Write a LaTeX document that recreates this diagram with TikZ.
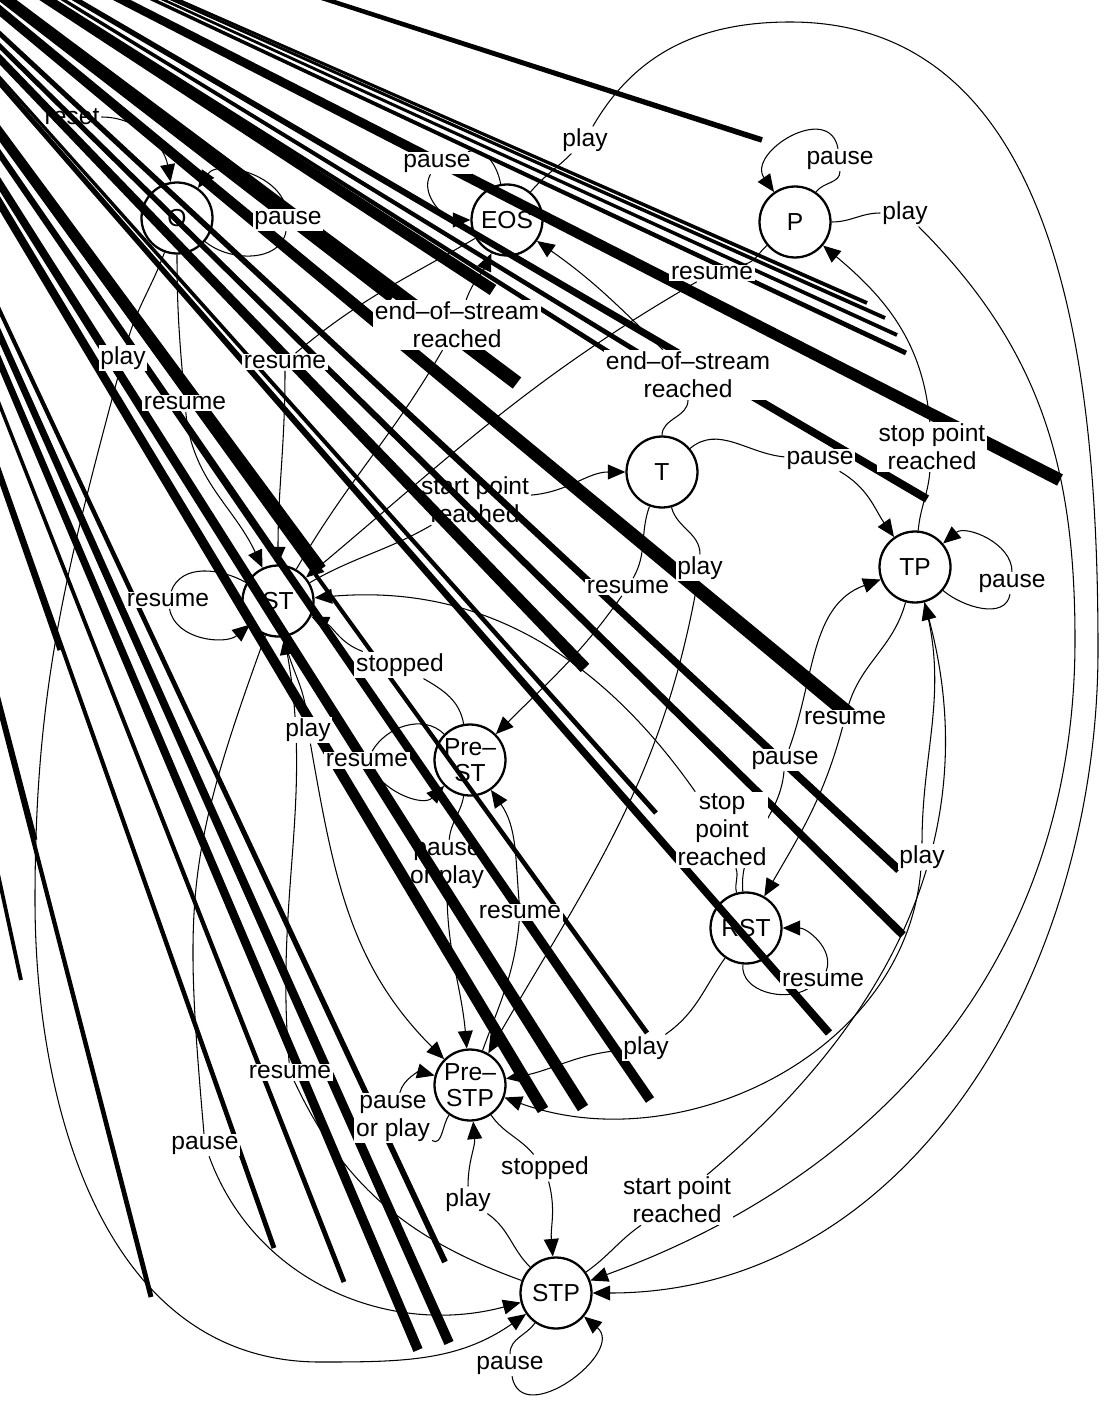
\documentclass[tikz,border=0pt]{standalone}
\usepackage{fontspec}
\setmainfont{Liberation Sans}
\usepackage{tikz}
\usetikzlibrary{arrows.meta, calc}
\pgfdeclarelayer{back}
\pgfdeclarelayer{bands}
\pgfsetlayers{back,bands,main}
\tikzset{
  state/.style={circle, draw, line width=1.3pt, fill=white, minimum size=1.42cm, inner sep=0pt, align=center, font=\fontsize{14}{15}\selectfont},
  prestate/.style={state, inner sep=-3pt},
  lbl/.style={fill=white, inner sep=1pt, align=center, font=\fontsize{14}{16}\selectfont},
  edge/.style={-{Triangle[length=10pt,width=8.5pt]}, line width=0.6pt},
}
% one smeared black wedge, pointing back to (V)
\newcommand{\wedgeband}[3]{\fill ($(V)!-1!(#1,#2)$) -- ($(#1,#2)!#3!90:(V)$) -- ($(#1,#2)!#3!-90:(V)$) -- cycle;}

\begin{document}
\begin{tikzpicture}[x=0.02cm, y=0.02cm]
\useasboundingbox (0,0) rectangle (1103,-1412);

% edge labels (on top)
\node[lbl] (lOo) at (288,-220) {pause};
\node[lbl] (lEOSe) at (437,-163) {pause};
\node[lbl] (lEOSstp) at (585,-140) {play};
\node[lbl] (lPp) at (840,-160) {pause};
\node[lbl] (lPstp) at (905,-213) {play};
\node[lbl] (lPst) at (712,-273) {resume};
\node[lbl] (lSTeos) at (457,-325) {end--of--stream\\reached};
\node[lbl] (lTeos) at (688,-375) {end--of--stream\\reached};
\node[lbl] (lOstp) at (123,-358) {play};
\node[lbl] (lEOSst) at (285,-362) {resume};
\node[lbl] (lOst) at (185,-403) {resume};
\node[lbl] (lTtp) at (820,-460) {pause};
\node[lbl] (lTPp) at (932,-447) {stop point\\reached};
\node[lbl] (lTPtp) at (1012,-583) {pause};
\node[lbl] (lSTst) at (168,-600) {resume};
\node[lbl] (lTpstp) at (700,-568) {play};
\node[lbl] (lTprest) at (628,-587) {resume};
\node[lbl] (lPrestst) at (400,-665) {stopped};
\node[lbl] (lSTpstp) at (308,-730) {play};
\node[lbl] (lPrestprest) at (367,-760) {resume};
\node[lbl] (lTPrst) at (845,-718) {resume};
\node[lbl] (lRSTtp) at (785,-760) {pause};
\node[lbl] (lRSTst) at (722,-830) {stop\\point\\reached};
\node[lbl] (lTPpstp) at (922,-857) {play};
\node[lbl] (lPstpprest) at (520,-912) {resume};
\node[lbl] (lRSTrst) at (823,-980) {resume};
\node[lbl] (lRSTpstp) at (646,-1048) {play};
\node[lbl] (lSTPst) at (290,-1072) {resume};
\node[lbl] (lPstppstp) at (393,-1118) {pause\\or play};
\node[lbl] (lSTstp) at (205,-1145) {pause};
\node[lbl] (lPstpstp) at (545,-1168) {stopped};
\node[lbl] (lSTPpstp) at (468,-1200) {play};
\node[lbl] (lSTPtp) at (677,-1200) {start point\\reached};
\node[lbl] (lSTPstp) at (510,-1365) {pause};

\begin{pgfonlayer}{back}
% states
\node[state] (O) at (177,-218) {O};
\node[state] (EOS) at (507,-220) {EOS};
\node[state] (P) at (795,-222) {P};
\node[state] (T) at (662,-472) {T};
\node[state] (TP) at (915,-567) {TP};
\node[state] (ST) at (278,-601) {ST};
\node[prestate] (PreST) at (470,-760) {Pre--\\ST};
\node[state] (RST) at (746,-928) {RST};
\node[prestate] (PreSTP) at (470,-1085) {Pre--\\STP};
\node[state] (STP) at (556,-1293) {STP};

% labels that the wedges run over
\node[lbl] (lreset) at (72,-117) {reset};
\node[lbl] (lSTt) at (475,-500) {start point\\reached};
\node[lbl] (lPrestpstp) at (447,-865) {pause\\or play};

% transitions
\draw[edge] (lreset) to[out=0,in=100] (O);
\draw[edge] (O) to[out=-40,in=-100] (lOo) to[out=100,in=55] (O);
\draw[edge] (EOS) to[out=100,in=20] (lEOSe) to[out=-120,in=180] (EOS);
\draw[edge] (EOS) to[out=50,in=-135] (lEOSstp) to[out=60,in=180] (790,-22) to[out=0,in=90] (1098,-650) to[out=-90,in=0] (STP);
\draw[edge] (P) to[out=55,in=-90] (lPp) to[out=100,in=125,looseness=1.6] (P);
\draw[edge] (P) to[out=0,in=180] (lPstp) to[out=-45,in=90] (1075,-640) to[out=-90,in=20] (STP);
\draw[edge] (P) to[out=-140,in=15] (lPst) to[out=210,in=40] (ST);
\draw[edge] (ST) to[out=60,in=-120] (lSTeos) to[out=70,in=-115] (EOS);
\draw[edge] (T) to[out=90,in=-90] (lTeos) to[out=135,in=-35] (EOS);
\draw[edge] (EOS) to[out=-150,in=40] (lEOSst) to[out=-90,in=90] (ST);
\draw[edge] (O) to[out=-90,in=95] (lOst) to[out=-85,in=115] (ST);
\draw[edge] (O) to[out=-110,in=75] (lOstp) to[out=-105,in=90] (35,-900) to[out=-90,in=180] (320,-1362) to[out=0,in=215] (STP);
\draw[edge] (ST) to[out=30,in=-150] (lSTt) to[out=5,in=180] (T);
\draw[edge] (T) to[out=40,in=175] (lTtp) to[out=-30,in=125] (TP);
\draw[edge] (TP) to[out=85,in=-95] (lTPp) to[out=95,in=-40] (P);
\draw[edge] (TP) to[out=-40,in=-100] (lTPtp) to[out=90,in=40] (TP);
\draw[edge] (ST) to[out=150,in=70] (lSTst) to[out=-80,in=-140] (ST);
\draw[edge] (T) to[out=-75,in=90] (lTpstp) to[out=-100,in=60] (PreSTP);
\draw[edge] (T) to[out=-110,in=60] (lTprest) to[out=-125,in=45] (PreST);
\draw[edge] (PreST) to[out=100,in=-30] (lPrestst) to[out=160,in=-25] (ST);
\draw[edge] (ST) to[out=-80,in=95] (lSTpstp) to[out=-80,in=135] (PreSTP);
\draw[edge] (PreST) to[out=135,in=60] (lPrestprest) to[out=-60,in=-135] (PreST);
\draw[edge] (TP) to[out=-105,in=75] (lTPrst) to[out=-105,in=60] (RST);
\draw[edge] (RST) to[out=95,in=-95] (lRSTtp) to[out=70,in=200] (TP);
\draw[edge] (RST) to[out=105,in=-70] (lRSTst) to[out=125,in=5] (ST);
\draw[edge] (TP) to[out=-75,in=90] (lTPpstp) to[out=-95,in=-20] (PreSTP);
\draw[edge] (PreST) to[out=-100,in=85] (lPrestpstp) to[out=-90,in=95] (PreSTP);
\draw[edge] (PreSTP) to[out=70,in=-95] (lPstpprest) to[out=95,in=-55] (PreST);
\draw[edge] (RST) to[out=-95,in=-150] (lRSTrst) to[out=70,in=0] (RST);
\draw[edge] (RST) to[out=-125,in=35] (lRSTpstp) to[out=185,in=10] (PreSTP);
\draw[edge] (STP) to[out=160,in=-65] (lSTPst) to[out=95,in=-80] (ST);
\draw[edge] (PreSTP) to[out=-125,in=-30] (lPstppstp) to[out=75,in=165] (PreSTP);
\draw[edge] (ST) to[out=-110,in=95,looseness=1.2] (lSTstp) to[out=-70,in=195] (STP);
\draw[edge] (PreSTP) to[out=-55,in=130] (lPstpstp) to[out=-75,in=95] (STP);
\draw[edge] (STP) to[out=135,in=-35] (lSTPpstp) to[out=90,in=-85] (PreSTP);
\draw[edge] (STP) to[out=35,in=-145] (lSTPtp) to[out=40,in=-75] (TP);
\draw[edge] (STP) to[out=-125,in=90] (lSTPstp) to[out=-80,in=-40,looseness=1.5] (STP);
\end{pgfonlayer}

% black wedges
\begin{pgfonlayer}{bands}
\begin{scope}
\clip (0,0) rectangle (1103,-1412);
\coordinate (V) at (-230,180);
\wedgeband{762}{-140}{1.6pt}
\wedgeband{867}{-303}{1.1pt}
\wedgeband{885}{-318}{1.1pt}
\wedgeband{897}{-335}{1.1pt}
\wedgeband{906}{-353}{1.4pt}
\wedgeband{1060}{-480}{3.6pt}
\wedgeband{927}{-499}{2.3pt}
\wedgeband{850}{-715}{4.2pt}
\wedgeband{899}{-870}{2.3pt}
\wedgeband{903}{-935}{2.3pt}
\wedgeband{829}{-1033}{2.3pt}
\wedgeband{656}{-813}{1.4pt}
\wedgeband{585}{-668}{3.4pt}
\wedgeband{517}{-383}{4pt}
\wedgeband{393}{-297}{3.7pt}
\wedgeband{493}{-290}{3.4pt}
\wedgeband{626}{-363}{1.4pt}
\wedgeband{656}{-363}{1.4pt}
\wedgeband{320}{-570}{4pt}
\wedgeband{151}{-1297}{1.4pt}
\wedgeband{274}{-1248}{1.4pt}
\wedgeband{344}{-1282}{1.4pt}
\wedgeband{418}{-1350}{2.8pt}
\wedgeband{449}{-1343}{2.8pt}
\wedgeband{445}{-1262}{1.7pt}
\wedgeband{543}{-1110}{3.4pt}
\wedgeband{583}{-1108}{3.4pt}
\wedgeband{650}{-1100}{2.8pt}
\wedgeband{647}{-1033}{1.4pt}
\wedgeband{60}{-650}{1.4pt}
\wedgeband{35}{-840}{1.4pt}
\wedgeband{21}{-980}{1.1pt}
\end{scope}
\end{pgfonlayer}
\end{tikzpicture}
\end{document}
